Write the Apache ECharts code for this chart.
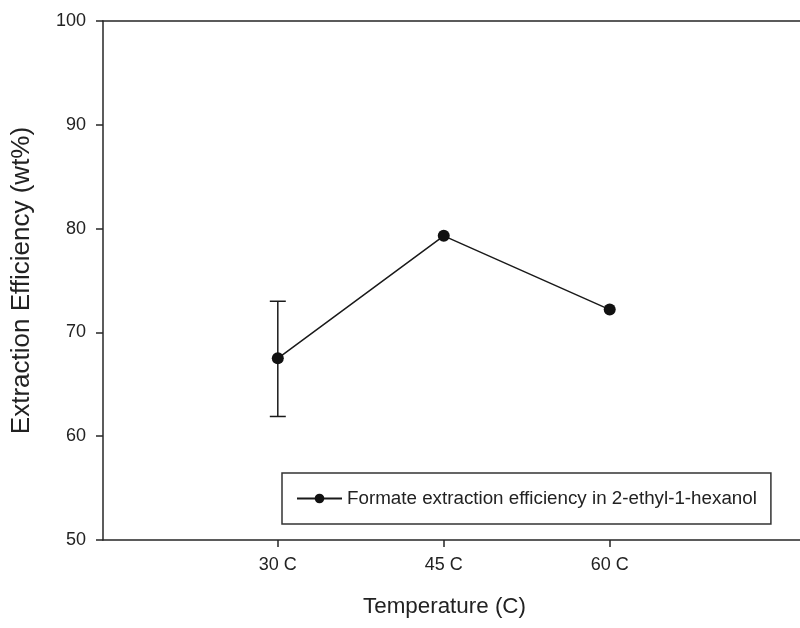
<!DOCTYPE html>
<html>
<head>
<meta charset="utf-8">
<script src="https://cdn.jsdelivr.net/npm/echarts@6/dist/echarts.min.js"></script>
<style>
html,body{margin:0;padding:0;background:#fff;}
#chart{width:800px;height:628px;}
</style>
</head>
<body>
<div id="chart"></div>
<script>
// Data
var temperatures = [30, 45, 60];
var tempLabels = ['30 C', '45 C', '60 C'];
var efficiency = [67.5, 79.3, 72.2];
var errLow = [61.9, null, null];
var errHigh = [73.0, null, null];
var seriesName = 'Formate extraction efficiency in 2-ethyl-1-hexanol';
var yTicks = [50, 60, 70, 80, 90, 100];

var lineData = temperatures.map(function (t, i) { return [t, efficiency[i]]; });
var errData = [];
temperatures.forEach(function (t, i) {
  if (errLow[i] != null && errHigh[i] != null) errData.push([t, errLow[i], errHigh[i]]);
});

var FONT = 'Liberation Sans, Arial, sans-serif';
var AX = '#262626';

var chart = echarts.init(document.getElementById('chart'), null, {renderer: 'canvas'});
chart.setOption({
  animation: false,
  backgroundColor: '#ffffff',
  grid: {left: 103, top: 21, right: 0, bottom: 88, containLabel: false},
  legend: {
    data: [seriesName],
    left: 282, top: 473,
    orient: 'horizontal',
    padding: [16, 14, 16, 14],
    itemWidth: 45, itemHeight: 12,
    borderColor: '#333', borderWidth: 1.5, borderRadius: 0,
    textStyle: {fontFamily: FONT, fontSize: 18.8, color: '#222'}
  },
  xAxis: [{
    type: 'value',
    min: 14.2, max: 77.2,
    name: 'Temperature (C)',
    nameLocation: 'middle',
    nameGap: 56,
    nameTextStyle: {fontFamily: FONT, fontSize: 22.4, color: '#222', padding: [0, 14, 0, 0]},
    axisLine: {show: true, lineStyle: {color: AX, width: 1.5}},
    axisTick: {show: true, length: 7, inside: false, lineStyle: {color: AX, width: 1.5}, customValues: temperatures},
    axisLabel: {
      fontFamily: FONT, fontSize: 18, color: '#222', margin: 16,
      customValues: temperatures,
      formatter: function (v) { var i = temperatures.indexOf(v); return i >= 0 ? tempLabels[i] : ''; }
    },
    splitLine: {show: false}
  }, {
    type: 'value',
    position: 'top',
    min: 14.2, max: 77.2,
    axisLine: {show: true, onZero: false, lineStyle: {color: AX, width: 1.5}},
    axisTick: {show: false},
    axisLabel: {show: false},
    splitLine: {show: false}
  }],
  yAxis: {
    type: 'value',
    min: 50, max: 100, interval: 10,
    name: 'Extraction Efficiency (wt%)',
    nameLocation: 'middle',
    nameGap: 68,
    nameTextStyle: {fontFamily: FONT, fontSize: 26, color: '#222'},
    axisLine: {show: true, lineStyle: {color: AX, width: 1.5}},
    axisTick: {show: true, length: 7, inside: false, lineStyle: {color: AX, width: 1.5}},
    axisLabel: {fontFamily: FONT, fontSize: 18, color: '#222', margin: 17,
      formatter: function (v) { return yTicks.indexOf(v) >= 0 ? String(v) : ''; }},
    splitLine: {show: false}
  },
  series: [
    {
      type: 'custom',
      name: 'err',
      data: errData,
      encode: {x: 0, y: [1, 2]},
      z: 1,
      renderItem: function (params, api) {
        var x = api.value(0);
        var lo = api.coord([x, api.value(1)]);
        var hi = api.coord([x, api.value(2)]);
        var hw = 8;
        var st = {stroke: '#1a1a1a', lineWidth: 1.5};
        return {
          type: 'group',
          children: [
            {type: 'line', shape: {x1: lo[0], y1: lo[1], x2: hi[0], y2: hi[1]}, style: st},
            {type: 'line', shape: {x1: lo[0] - hw, y1: lo[1], x2: lo[0] + hw, y2: lo[1]}, style: st},
            {type: 'line', shape: {x1: hi[0] - hw, y1: hi[1], x2: hi[0] + hw, y2: hi[1]}, style: st}
          ]
        };
      }
    },
    {
      type: 'line',
      name: seriesName,
      data: lineData,
      symbol: 'circle',
      symbolSize: 12,
      z: 3,
      lineStyle: {color: '#1a1a1a', width: 1.5},
      itemStyle: {color: '#111', borderWidth: 0}
    }
  ]
});
</script>
</body>
</html>
